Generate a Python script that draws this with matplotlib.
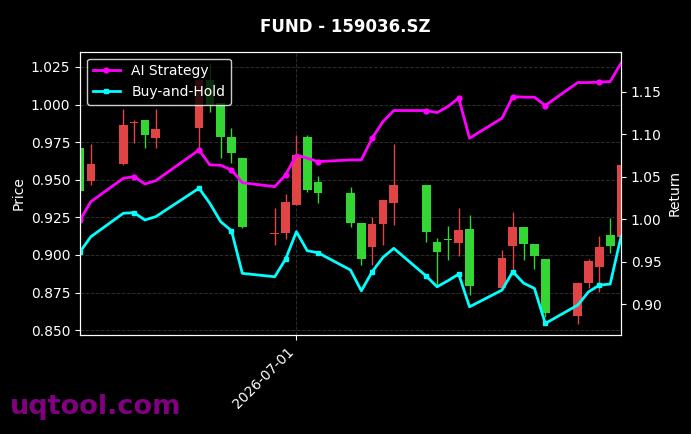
import numpy as np
import pandas as pd
import matplotlib
matplotlib.use("Agg")
import matplotlib.pyplot as plt
import matplotlib.dates as mdates

# ---------------------------- data ----------------------------
dates = pd.to_datetime([
    "2026-06-11", "2026-06-12", "2026-06-15", "2026-06-16", "2026-06-17", "2026-06-18",
    "2026-06-22", "2026-06-23", "2026-06-24", "2026-06-25", "2026-06-26",
    "2026-06-29", "2026-06-30", "2026-07-01", "2026-07-02", "2026-07-03",
    "2026-07-06", "2026-07-07", "2026-07-08", "2026-07-09", "2026-07-10",
    "2026-07-13", "2026-07-14", "2026-07-15", "2026-07-16", "2026-07-17",
    "2026-07-20", "2026-07-21", "2026-07-22", "2026-07-23", "2026-07-24",
    "2026-07-27", "2026-07-28", "2026-07-29", "2026-07-30", "2026-07-31",
])

open_ = [0.9711, 0.9493, 0.9605, 0.9880, 0.9897, 0.9780,
         0.9842, 1.0164, 1.0008, 0.9782, 0.9643,
         0.9140, 0.9147, 0.9332, 0.9782, 0.9483,
         0.9410, 0.9214, 0.9054, 0.9205, 0.9347,
         0.9465, 0.9088, 0.9105, 0.9081, 0.9170,
         0.8777, 0.9059, 0.9183, 0.9072, 0.8970,
         0.8593, 0.8815, 0.8921, 0.9130, 0.9119]
high = [0.9711, 0.9738, 0.9969, 0.9897, 0.9897, 0.9969,
        1.0180, 1.0277, 1.0008, 0.9842, 0.9643,
        0.9310, 0.9405, 0.9798, 0.9798, 0.9525,
        0.9454, 0.9214, 0.9254, 0.9365, 0.9738,
        0.9465, 0.9110, 0.9192, 0.9310, 0.9265,
        0.9032, 0.9287, 0.9183, 0.9072, 0.8970,
        0.8819, 0.8970, 0.9125, 0.9243, 0.9598]
low = [0.9425, 0.9465, 0.9598, 0.9742, 0.9709, 0.9709,
       0.9698, 0.9953, 0.9642, 0.9613, 0.9181,
       0.9066, 0.9104, 0.9332, 0.9420, 0.9343,
       0.9183, 0.8933, 0.8933, 0.9066, 0.9199,
       0.9088, 0.8788, 0.8966, 0.8992, 0.8733,
       0.8777, 0.8899, 0.8966, 0.8904, 0.8589,
       0.8540, 0.8777, 0.8755, 0.9010, 0.9119]
close = [0.9425, 0.9605, 0.9864, 0.9885, 0.9797, 0.9837,
         1.0166, 0.9997, 0.9786, 0.9680, 0.9187,
         0.9146, 0.9350, 0.9664, 0.9432, 0.9414,
         0.9214, 0.8972, 0.9205, 0.9365, 0.9465,
         0.9154, 0.9021, 0.9099, 0.9165, 0.8793,
         0.8977, 0.9183, 0.9072, 0.8992, 0.8615,
         0.8811, 0.8961, 0.9050, 0.9059, 0.9598]

ai_strategy = [0.9992, 1.0207, 1.0482, 1.0501, 1.0415, 1.0454,
               1.0815, 1.0639, 1.0635, 1.0580, 1.0430,
               1.0384, 1.0521, 1.0756, 1.0718, 1.0678,
               1.0698, 1.0698, 1.0953, 1.1148, 1.1278,
               1.1278, 1.1254, 1.1325, 1.1424, 1.0953,
               1.1188, 1.1442, 1.1435, 1.1435, 1.1337,
               1.1607, 1.1607, 1.1612, 1.1619, 1.1835]
buy_hold = [0.9619, 0.9795, 1.0071, 1.0078, 0.9992, 1.0031,
            1.0365, 1.0188, 0.9972, 0.9866, 0.9365,
            0.9325, 0.9533, 0.9854, 0.9631, 0.9607,
            0.9404, 0.9160, 0.9384, 0.9553, 0.9659,
            0.9333, 0.9207, 0.9278, 0.9356, 0.8972,
            0.9168, 0.9384, 0.9250, 0.9188, 0.8776,
            0.8992, 0.9148, 0.9227, 0.9239, 0.9795]

title = "FUND - 159036.SZ"

# ---------------------------- plot ----------------------------
up_color = "#e04444"
down_color = "#33d633"

fig = plt.figure(figsize=(6.91, 4.34), dpi=100, facecolor="black")
ax = fig.add_axes([0.1158, 0.228, 0.7829, 0.653])
ax.set_facecolor("black")

o = np.array(open_)
c = np.array(close)
colors = [up_color if cc >= oo else down_color for oo, cc in zip(o, c)]
body = np.abs(c - o)
body = np.where(body < 0.0006, 0.0006, body)
ax.vlines(dates, low, high, colors=colors, linewidth=1, zorder=2)
ax.bar(dates, body, bottom=np.minimum(o, c), width=0.8, color=colors, zorder=3)

ax.set_xlim(dates[0], dates[-1])
ax.set_ylim(0.8467, 1.0352)
ax.set_ylabel("Price", color="white")
ax.grid(True, linestyle="--", color="gray", alpha=0.35, linewidth=0.7)
ax.xaxis.set_major_locator(mdates.MonthLocator())
ax.xaxis.set_major_formatter(mdates.DateFormatter("%Y-%m-%d"))
plt.setp(ax.get_xticklabels(), rotation=45, ha="right")

ax2 = ax.twinx()
ax2.plot(dates, ai_strategy, color="#ff00ff", linewidth=2, marker="o",
         markersize=3.5, markevery=3, label="AI Strategy")
ax2.plot(dates, buy_hold, color="#00ffff", linewidth=2, marker="s",
         markersize=3.5, markevery=3, label="Buy-and-Hold")
ax2.set_ylim(0.864, 1.197)
ax2.set_ylabel("Return", color="white")

for a in (ax, ax2):
    a.tick_params(colors="white")
    for s in a.spines.values():
        s.set_color("white")

leg = ax2.legend(loc="upper left", facecolor="black", edgecolor="white",
                 labelcolor="white")

fig.suptitle(title, color="white", fontsize=12, fontweight="bold", y=0.958)
fig.text(0.015, 0.045, "uqtool.com", color="purple", fontsize=19.5,
         fontweight="bold")

fig.savefig("out.png", dpi=100, facecolor="black")
